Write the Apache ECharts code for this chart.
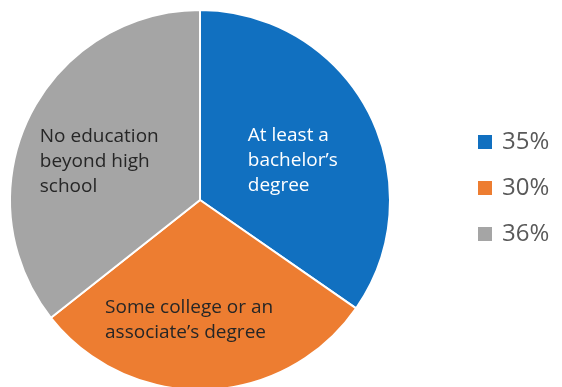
<!DOCTYPE html>
<html>
<head>
<meta charset="utf-8">
<script src="https://cdn.jsdelivr.net/npm/echarts@6/dist/echarts.min.js"></script>
<style>
  html, body { margin: 0; padding: 0; background: #ffffff; }
  #chart { width: 562px; height: 387px; }
</style>
</head>
<body>
<div id="chart"></div>
<script>
// Education attainment shares
const categories = [
  'At least a\nbachelor\u2019s\ndegree',
  'Some college or an\nassociate\u2019s degree',
  'No education\nbeyond high\nschool'
];
const values = [35, 30, 36];
const legendLabels = ['35%', '30%', '36%'];
const colors = ['#1170c0', '#ed7d31', '#a5a5a5'];
const labelColors = ['#ffffff', '#262626', '#262626'];
const labelOffsets = [[11, 6], [-2, 22], [-8, 4]];
const labelWidths = [100, 192, 128];

const chart = echarts.init(document.getElementById('chart'), null, { renderer: 'canvas' });

const data = values.map((v, i) => ({
  name: legendLabels[i],
  value: v,
  itemStyle: { color: colors[i] },
  label: {
    offset: labelOffsets[i],
    rich: {
      t: {
        width: labelWidths[i],
        align: 'left',
        color: labelColors[i],
        fontFamily: 'Open Sans',
        fontSize: 19,
        lineHeight: 25
      }
    }
  }
}));

chart.setOption({
  animation: false,
  legend: {
    orient: 'vertical',
    left: 476,
    top: 130,
    padding: 0,
    itemWidth: 16,
    itemHeight: 16,
    itemGap: 22,
    icon: 'rect',
    data: legendLabels,
    textStyle: {
      fontFamily: 'Open Sans',
      fontSize: 24,
      lineHeight: 24,
      color: '#595959',
      padding: [0, 0, 0, 4]
    }
  },
  series: [{
    type: 'pie',
    center: [200, 200],
    radius: 190,
    startAngle: 90,
    clockwise: true,
    avoidLabelOverlap: false,
    itemStyle: { borderColor: '#ffffff', borderWidth: 2 },
    label: {
      show: true,
      position: 'inside',
      formatter: p => categories[p.dataIndex].split('\n').map(l => '{t|' + l + '}').join('\n')
    },
    labelLine: { show: false },
    emphasis: { disabled: true },
    data: data
  }]
});
</script>
</body>
</html>
